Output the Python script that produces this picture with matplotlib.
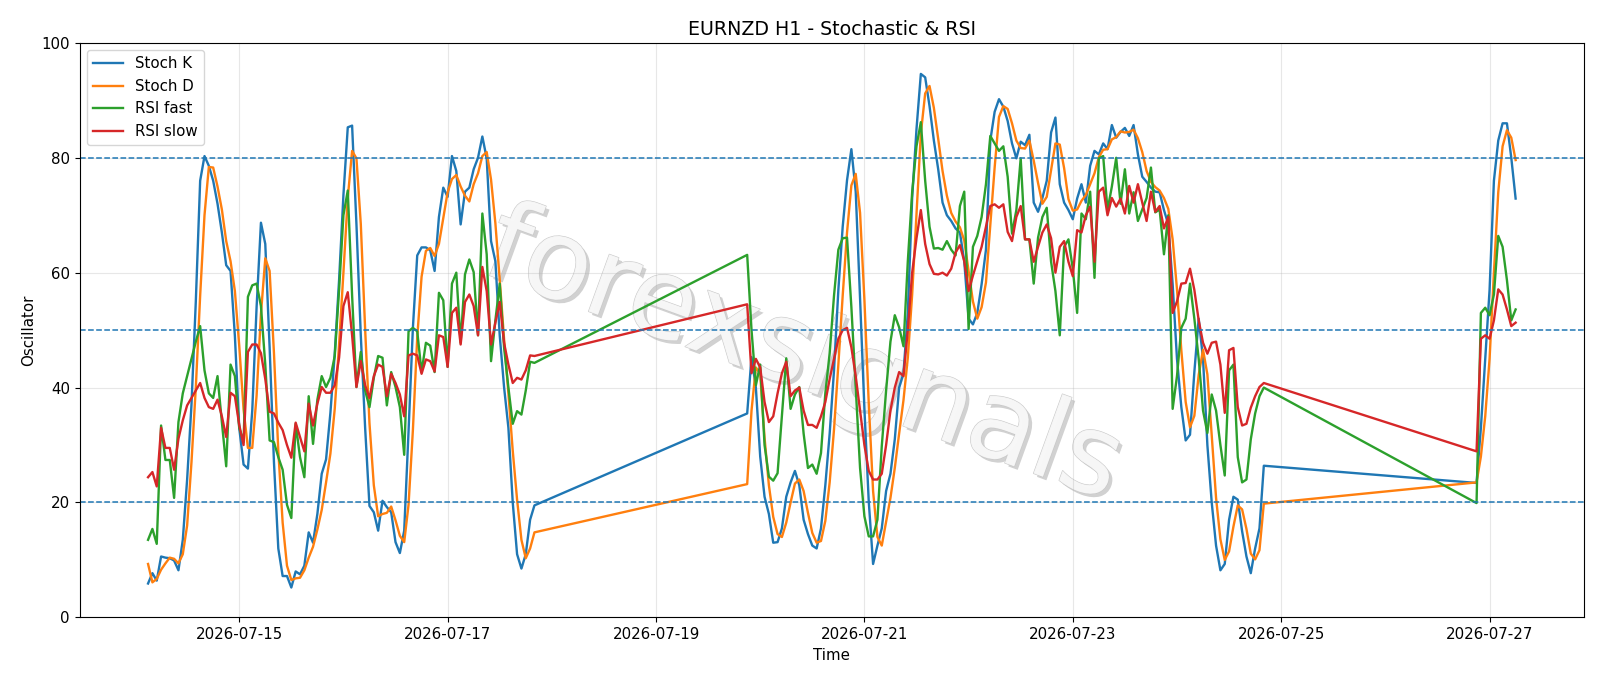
import matplotlib
matplotlib.use("Agg")
import matplotlib.pyplot as plt
import matplotlib.dates as mdates
import matplotlib.patheffects as pe
import pandas as pd

# hourly bars, weekend hours missing
seg_a = pd.date_range("2026-07-14 03:00", "2026-07-17 20:00", freq="h")
seg_b = pd.date_range("2026-07-19 21:00", "2026-07-24 20:00", freq="h")
seg_c = pd.date_range("2026-07-26 21:00", "2026-07-27 06:00", freq="h")
times = seg_a.append(seg_b).append(seg_c)

stoch_k = [
    5.9, 7.7, 6.4, 10.6, 10.4, 10.3, 9.9, 8.2, 13.5, 24,
    37, 55, 76, 80.3, 78.6, 76, 72, 67, 61.3, 60.3,
    49, 33, 26.6, 25.9, 36, 54, 68.7, 65, 47, 27,
    12, 7.2, 7.2, 5.2, 8, 7.5, 9, 14.8, 13, 18,
    25, 27.5, 35.6, 45.9, 58.7, 73.5, 85.3, 85.6, 68.4, 49.1,
    33, 19.4, 18.3, 15.1, 20.3, 19.2, 18.3, 13.1, 11.2, 15.1,
    32.4, 50.4, 63, 64.4, 64.4, 63.9, 60.3, 69.7, 74.8, 73.2,
    80.3, 77.7, 68.4, 74.1, 74.8, 78, 80, 83.7, 79.9, 65.5,
    62, 49.1, 40.1, 33, 20, 11, 8.5, 11, 17, 19.5,
    # week 2
    35.5, 45.3, 40, 28, 21, 18, 13, 13.1, 15.5, 21,
    23.5, 25.5, 23, 17, 14.5, 12.5, 12, 15.5, 23, 32,
    43, 57, 68, 76.1, 81.5, 74.1, 55.5, 36.3, 20.2, 9.3,
    12.5, 15.5, 22, 25, 31, 40, 42.5, 53, 73, 85,
    94.6, 94, 89, 83, 78, 72.2, 70, 69, 67.7, 67,
    62, 52, 51, 53, 58, 64, 83, 88, 90.2, 88.9,
    86.4, 82.5, 79.9, 82.8, 82.2, 84, 72.2, 70.6, 73, 76,
    84.4, 87, 75.4, 72.2, 70.9, 69.3, 72.9, 75.4, 72.2, 78.6,
    81.2, 80.6, 82.5, 81.5, 85.7, 83.5, 84.5, 85.2, 83.8, 85.7,
    80.6, 76.7, 75.8, 74.8, 74.1, 74, 70.9, 68.4, 58, 45,
    36.6, 30.8, 31.8, 42.7, 52, 45, 30, 20, 12.5, 8.2,
    9.3, 17, 21, 20.5, 15, 10.6, 7.7, 12, 15.5, 26.4,
    # week 3
    23.4, 33, 45, 57, 76, 83, 86, 86, 80, 72.9,
]

stoch_d = [
    9.3, 6.1, 6.7, 8.3, 9.4, 10.4, 10.2, 9.4, 11.0, 16,
    27, 40, 56, 70, 78.4, 78.3, 75, 71, 65.5, 62,
    56.8, 47.3, 36.2, 29.5, 29.5, 38.6, 52.8, 62.5, 60.3, 46,
    29, 16.5, 9, 6.5, 6.8, 6.9, 8.2, 10.4, 12.3, 15.3,
    18.7, 23.5, 28.5, 36.3, 47.5, 60, 73, 81.2, 79.9, 68.5,
    50.2, 33.8, 23, 17.6, 18, 18.2, 19.3, 16.9, 14.2, 13.1,
    19.6, 32.6, 48.7, 59.3, 63.8, 64.3, 62.9, 65, 69.5, 74,
    76.3, 77, 75, 73.4, 72.4, 75.4, 77.3, 80.3, 81, 76.2,
    68.6, 58.8, 48.5, 39, 29, 20.5, 13.5, 10.3, 12, 14.8,
    # week 2
    23.2, 36, 43.5, 42.4, 31.3, 23, 17.5, 14.5, 14, 16.5,
    20, 23.3, 24, 22, 18.2, 14.7, 13, 13.3, 16.8, 23.5,
    32.7, 44, 56, 67, 75.2, 77.2, 70.4, 55.3, 37.3, 22,
    14, 12.5, 16.7, 20.8, 26, 32, 37.8, 45.2, 56.2, 70.3,
    84.2, 91.2, 92.5, 88.7, 83.3, 77.7, 73.4, 70.4, 68.9, 67.9,
    65.6, 60.3, 55, 52, 54, 58.3, 68.3, 78.3, 87.1, 89,
    88.5, 86, 83, 81.7, 81.6, 83, 79.5, 75.6, 72, 73.2,
    77.8, 82.5, 82.3, 78.2, 72.8, 70.8, 71, 72.5, 73.5, 75.4,
    77.3, 80.1, 81.4, 81.5, 83.2, 83.6, 84.6, 84.4, 84.5, 84.9,
    83.4, 81, 77.7, 75.8, 74.9, 74.3, 73, 71.1, 65.8, 57.1,
    46.5, 37.5, 33.1, 35.1, 42.2, 46.6, 42.3, 31.7, 20.8, 13.6,
    10, 11.5, 15.8, 19.5, 18.8, 15.4, 11.1, 10.1, 11.7, 19.8,
    # week 3
    23.5, 28, 35, 45, 60, 74, 82, 84.8, 83.5, 79.6,
]

rsi_fast = [
    13.5, 15.4, 12.8, 33.4, 27.4, 27.4, 20.8, 34, 39, 42,
    45, 48, 50.7, 43, 39, 38.2, 42, 34, 26.3, 44,
    42, 33, 30.5, 55.8, 57.8, 58.1, 54.2, 44, 30.8, 30.5,
    27.9, 25.7, 19.6, 17.3, 33.7, 27.9, 24.4, 38.5, 30.2, 37.9,
    42, 40.1, 41.7, 45.5, 57, 70, 74.3, 56, 40.1, 46.2,
    39.5, 36.6, 41.7, 45.5, 45.2, 36.9, 42.7, 40.1, 36.6, 28.3,
    49.8, 50.4, 49.8, 42.7, 47.8, 47.3, 42.7, 56.5, 55.2, 43.6,
    58.1, 60, 47.8, 59.7, 62.3, 60.1, 49.1, 70.3, 63.2, 44.6,
    51.7, 58.1, 47, 40, 33.7, 35.9, 35.3, 39.5, 44.5, 44.3,
    # week 2
    63.1, 50, 40.4, 44, 30, 24.5, 23.8, 25.1, 35, 45.1,
    36.3, 38.8, 40.1, 32, 26, 26.6, 25, 28.6, 39, 46,
    56, 64, 66, 66.1, 54, 40, 26, 17.6, 14.1, 14.1,
    17, 29.8, 39.5, 48, 52.6, 50.5, 47.2, 62, 74, 82,
    86.2, 76, 68, 64.2, 64.3, 64, 65.5, 64, 63, 71.6,
    74.1, 50.2, 64.5, 66.4, 69.7, 75.4, 83.8, 82.5, 81.2, 82,
    76.7, 66.8, 70.9, 79.9, 65.8, 65.8, 58.1, 66.1, 69.7, 71.3,
    61.9, 56.8, 49.1, 64.5, 65.8, 60.7, 53, 70.3, 69.3, 74.1,
    59.1, 79.9, 80.3, 70.9, 75, 80, 72, 78, 70.3, 74,
    69, 71, 73, 78.3, 70.5, 71, 63.2, 70, 36.3, 42,
    50.4, 52, 58.1, 52, 45, 36, 32.1, 38.8, 36, 30,
    24.7, 43, 44, 27.9, 23.5, 24, 31, 35.5, 38.5, 40,
    # week 3
    19.9, 53, 53.9, 52.6, 56.2, 66.4, 64.5, 58.7, 51.7, 53.6,
]

rsi_slow = [
    24.4, 25.3, 22.8, 33, 29.5, 29.5, 25.7, 31.1, 34.3, 36.9,
    38.2, 39.5, 40.8, 38.2, 36.6, 36.3, 37.9, 35, 31.4, 39.1,
    38.5, 33.5, 30, 46.2, 47.5, 47.5, 46, 41.5, 35.8, 35.5,
    33.9, 32.6, 30, 27.8, 33.9, 31.4, 28.9, 37.2, 33.4, 37.2,
    40.1, 39.1, 39.1, 40.4, 45.2, 54.2, 56.6, 49.1, 40.1, 44.6,
    40.4, 38.2, 42, 44, 43.6, 38.5, 42.4, 40.8, 38.8, 35,
    45.6, 45.9, 45.6, 42.4, 44.9, 44.6, 42.8, 49.1, 48.8, 43.6,
    53, 53.9, 47.5, 54.9, 56.2, 54.2, 49.1, 61, 56.8, 47.5,
    51.3, 54.9, 47.8, 44, 40.8, 41.7, 41.4, 43, 45.6, 45.5,
    # week 2
    54.5, 42.5, 45, 43.5, 37.5, 34, 35, 39, 42.5, 44.5,
    38.5, 39.5, 40, 36, 33.5, 33.5, 33, 35, 37.5, 41.5,
    45, 48.5, 50, 50.4, 47, 42, 36, 30, 25.5, 24,
    24, 25, 30, 36, 40, 42.7, 42, 50, 60, 66,
    70.9, 65, 61.5, 59.8, 59.7, 60, 59.5, 60.7, 63.5, 64.8,
    62, 56.8, 59.5, 62, 64.5, 68, 71.6, 71.9, 71.3, 71.9,
    67.1, 65.5, 69.7, 71.6, 65.8, 65.8, 61.9, 64.5, 67, 68.4,
    66, 60, 64.5, 65.5, 61.9, 59.4, 67.4, 67, 70, 71.5,
    61.9, 74.1, 74.8, 70, 73, 71.5, 72.9, 70.3, 75.1, 72.2,
    75.4, 72.2, 69, 74.1, 70.6, 71.6, 67.7, 69.7, 53, 55,
    58.1, 58.2, 60.7, 57, 51.7, 47.8, 45.9, 47.8, 48, 44,
    35.6, 46.5, 46.9, 36.6, 33.4, 33.7, 36.5, 38.5, 40.1, 40.8,
    # week 3
    28.9, 48.5, 49.1, 48.5, 51.7, 57.1, 56.2, 53.6, 50.7, 51.3,
]

levels = [20, 50, 80]
tick_days = pd.date_range("2026-07-15", "2026-07-27", freq="2D")

plt.rcParams["font.size"] = 10.8

fig, ax = plt.subplots(figsize=(16, 6.86), dpi=100)
fig.subplots_adjust(left=0.0498, right=0.990, bottom=0.100, top=0.9375)

ax.plot(times, stoch_k, label="Stoch K", lw=1.7)
ax.plot(times, stoch_d, label="Stoch D", lw=1.7)
ax.plot(times, rsi_fast, label="RSI fast", lw=1.7)
ax.plot(times, rsi_slow, label="RSI slow", lw=1.7)

for lv in levels:
    ax.axhline(lv, color="C0", linestyle="--", linewidth=1.1)

ax.set_ylim(0, 100)
ax.set_xticks(tick_days)
ax.xaxis.set_major_formatter(mdates.DateFormatter("%Y-%m-%d"))
ax.grid(True, alpha=0.3)
ax.set_title("EURNZD H1 - Stochastic & RSI", fontsize=13.7)
ax.set_xlabel("Time")
ax.set_ylabel("Oscillator")
ax.legend(loc="upper left")

# watermark, drawn under the lines
ax.text(0.481, 0.453, "forexsignals", transform=ax.transAxes, fontsize=80,
        rotation=-20, ha="center", va="center", color="#f7f7f7", alpha=0.9,
        path_effects=[pe.withSimplePatchShadow(offset=(2.5, -2.5), shadow_rgbFace="#999999", alpha=0.45),
                      pe.withStroke(linewidth=0.8, foreground="#c4c4c4")],
        zorder=1.5)

fig.savefig("out.png", dpi=100)
